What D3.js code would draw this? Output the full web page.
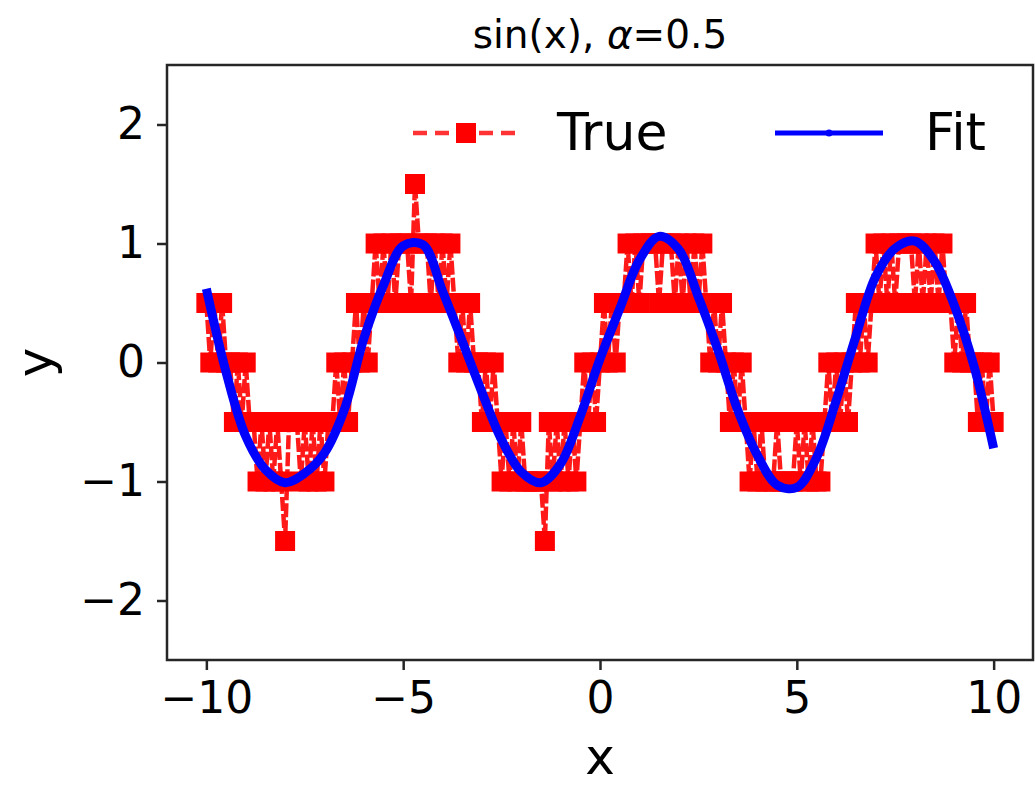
<!DOCTYPE html>
<html>
<head>
<meta charset="utf-8">
<script src="https://cdn.jsdelivr.net/npm/d3@7"></script>
<style>
body { margin: 0; background: #fff; }
text { font-family: "DejaVu Sans", sans-serif; fill: #000; }
</style>
</head>
<body>
<div id="chart"></div>
<script>
// quantized "True" series at x = -10, -9.9, ... 10
const trueStart = -10, trueStep = 0.1;
const trueY = [
  0.5, 0, 0.5, 0, 0.5, 0, 0, -0.5, 0, -0.5,
  0, -0.5, -0.5, -1, -0.5, -1, -0.5, -1, -0.5, -1,
  -1.5, -0.5, -0.5, -0.5, -1, -0.5, -1, -0.5, -1, -0.5,
  -1, -0.5, -0.5, 0, -0.5, 0, -0.5, 0, 0.5, 0,
  0.5, 0, 0.5, 1, 0.5, 1, 0.5, 1, 0.5, 1,
  1, 1, 0.5, 1.5, 1, 1, 1, 0.5, 1, 0.5,
  1, 0.5, 1, 0.5, 0, 0.5, 0, 0.5, 0, 0,
  -0.5, 0, -0.5, 0, -0.5, -1, -0.5, -1, -0.5, -1,
  -0.5, -1, -1, -1, -1, -1, -1.5, -0.5, -1, -0.5,
  -1, -0.5, -1, -0.5, -1, -0.5, 0, -0.5, 0, -0.5,
  0, 0.5, 0, 0.5, 0, 0.5, 0.5, 1, 0.5, 1,
  0.5, 1, 1, 1, 1, 0.5, 1, 1, 1, 0.5,
  1, 0.5, 1, 0.5, 1, 0.5, 1, 0.5, 0, 0.5,
  0, 0.5, 0, -0.5, 0, -0.5, 0, -0.5, -1, -0.5,
  -1, -0.5, -1, -1, -1, -0.5, -1, -1, -1, -1,
  -0.5, -1, -0.5, -1, -0.5, -1, -1, -0.5, 0, -0.5,
  0, -0.5, 0, -0.5, 0, 0.5, 0, 0.5, 0, 0.5,
  1, 0.5, 1, 0.5, 1, 0.5, 1, 1, 1, 1,
  0.5, 1, 0.5, 1, 0.5, 1, 0.5, 1, 0.5, 0.5,
  0, 0.5, 0, 0.5, 0, 0, -0.5, 0, -0.5, 0,
  -0.5
];

// "Fit" curve, read at x = -10, -9.5, ... 10
const fitStart = -10, fitStep = 0.5;
const fitY = [
  0.62, -0.08, -0.62, -0.9, -1.01, -0.93, -0.76, -0.4, 0.2, 0.65,
  0.98, 0.99, 0.6, 0.18, -0.25, -0.65, -0.92, -1.01, -0.85, -0.45,
  0.03, 0.45, 0.86, 1.06, 0.95, 0.55, 0.1, -0.4, -0.78, -1.03,
  -1.05, -0.8, -0.32, 0.22, 0.72, 0.96, 1.02, 0.85, 0.48, -0.03,
  -0.72
];

const xTicks = [-10, -5, 0, 5, 10];
const yTicks = [-2, -1, 0, 1, 2];
const xDomain = [-11, 11];
const yDomain = [-2.5, 2.5];

const width = 1035, height = 785;
const mLeft = 167, mRight = 1033, mTop = 65, mBottom = 660;

const svg = d3.select("#chart")
    .append("svg")
    .attr("width", width)
    .attr("height", height);

const x = d3.scaleLinear().domain(xDomain).range([mLeft, mRight]);
const y = d3.scaleLinear().domain(yDomain).range([mBottom, mTop]);

const truePts = trueY.map((v, i) => ({ x: trueStart + i * trueStep, y: v }));
const fitPts = fitY.map((v, i) => ({ x: fitStart + i * fitStep, y: v }));

svg.append("defs").append("clipPath").attr("id", "plot")
    .append("rect")
    .attr("x", mLeft).attr("y", mTop)
    .attr("width", mRight - mLeft).attr("height", mBottom - mTop);

const plot = svg.append("g").attr("clip-path", "url(#plot)");

// True: dashed red line + square markers
plot.append("path")
    .datum(truePts)
    .attr("fill", "none")
    .attr("stroke", "red")
    .attr("stroke-opacity", 0.9)
    .attr("stroke-width", 4.5)
    .attr("stroke-dasharray", "14,3")
    .attr("d", d3.line().x(d => x(d.x)).y(d => y(d.y)));

plot.selectAll("rect.mk")
    .data(truePts)
    .join("rect")
    .attr("class", "mk")
    .attr("x", d => x(d.x) - 10)
    .attr("y", d => y(d.y) - 10)
    .attr("width", 20)
    .attr("height", 20)
    .attr("fill", "red");

// Fit: thick blue line
plot.append("path")
    .datum(fitPts)
    .attr("fill", "none")
    .attr("stroke", "blue")
    .attr("stroke-width", 9)
    .attr("stroke-linejoin", "round")
    .attr("d", d3.line().curve(d3.curveCatmullRom).x(d => x(d.x)).y(d => y(d.y)));

// axes
const fmt = d3.format("d");
const xAxis = svg.append("g")
    .attr("transform", `translate(0,${mBottom})`)
    .call(d3.axisBottom(x).tickValues(xTicks).tickFormat(fmt).tickSize(10).tickPadding(12));
const yAxis = svg.append("g")
    .attr("transform", `translate(${mLeft},0)`)
    .call(d3.axisLeft(y).tickValues(yTicks).tickFormat(fmt).tickSize(10).tickPadding(12));

[xAxis, yAxis].forEach(g => {
    g.select(".domain").remove();
    g.selectAll(".tick line").attr("stroke", "#262626").attr("stroke-width", 2.5);
    g.selectAll(".tick text")
        .attr("fill", "#000")
        .style("font-family", "DejaVu Sans")
        .style("font-size", "44px");
});

svg.append("rect")
    .attr("x", mLeft).attr("y", mTop)
    .attr("width", mRight - mLeft).attr("height", mBottom - mTop)
    .attr("fill", "none")
    .attr("stroke", "#262626")
    .attr("stroke-width", 2.5);

// labels
svg.append("text")
    .attr("x", (mLeft + mRight) / 2)
    .attr("y", 774)
    .attr("text-anchor", "middle")
    .style("font-size", "50px")
    .text("x");

svg.append("text")
    .attr("transform", `translate(52,${(mTop + mBottom) / 2}) rotate(-90)`)
    .attr("text-anchor", "middle")
    .style("font-size", "50px")
    .text("y");

const title = svg.append("text")
    .attr("x", (mLeft + mRight) / 2)
    .attr("y", 48)
    .attr("text-anchor", "middle")
    .style("font-size", "39px");
title.append("tspan").text("sin(x), ");
title.append("tspan").style("font-style", "italic").text("α");
title.append("tspan").text("=0.5");

// legend
const legendY = 133;
const leg = svg.append("g");
leg.append("line")
    .attr("x1", 413).attr("x2", 517)
    .attr("y1", legendY).attr("y2", legendY)
    .attr("stroke", "red")
    .attr("stroke-opacity", 0.8)
    .attr("stroke-width", 4.5)
    .attr("stroke-dasharray", "14,8");
leg.append("rect")
    .attr("x", 456).attr("y", legendY - 10)
    .attr("width", 20).attr("height", 20)
    .attr("fill", "red");
leg.append("text")
    .attr("x", 557).attr("y", 150)
    .style("font-size", "52px")
    .text("True");

leg.append("line")
    .attr("x1", 775).attr("x2", 883)
    .attr("y1", legendY).attr("y2", legendY)
    .attr("stroke", "blue")
    .attr("stroke-width", 5);
leg.append("circle")
    .attr("cx", 829).attr("cy", legendY)
    .attr("r", 3.5)
    .attr("fill", "blue");
leg.append("text")
    .attr("x", 925).attr("y", 150)
    .style("font-size", "52px")
    .text("Fit");
</script>
</body>
</html>
